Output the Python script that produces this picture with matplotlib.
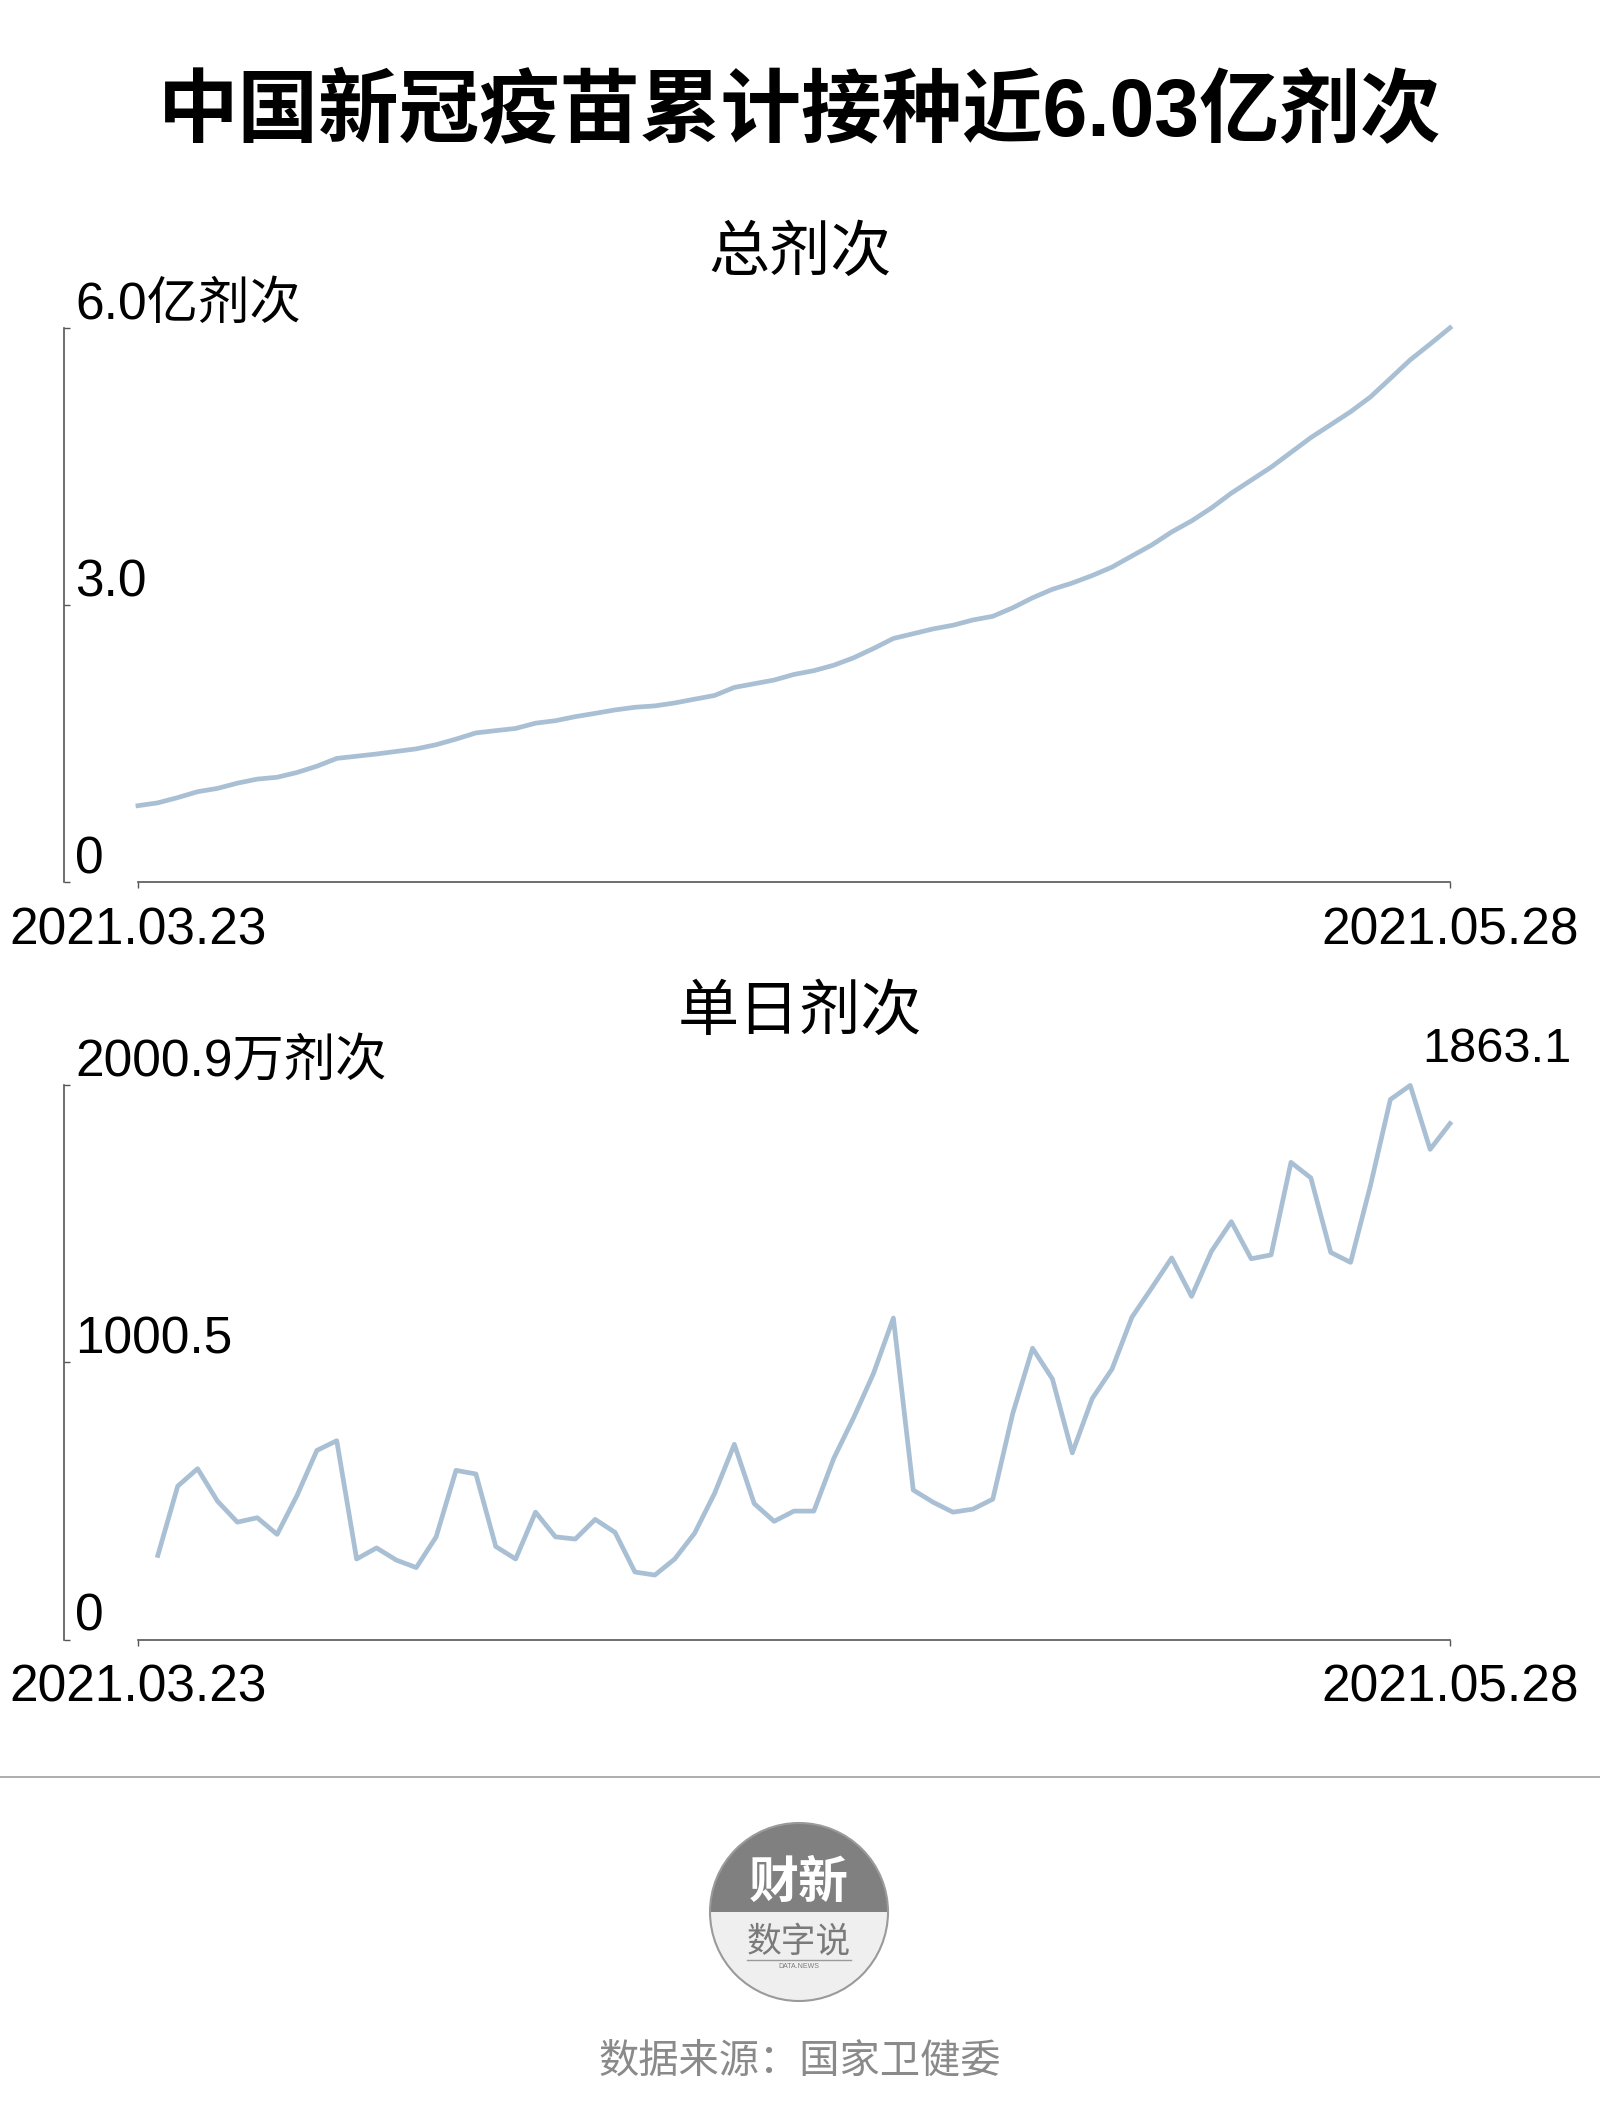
import numpy as np
import pandas as pd
import matplotlib
matplotlib.use('Agg')
import matplotlib.pyplot as plt
import matplotlib.dates as mdates
from matplotlib.patches import Wedge, Circle

plt.rcParams['font.family'] = ['Liberation Sans', 'Noto Sans CJK SC', 'DejaVu Sans']

### data
dates = pd.date_range('2021-03-23', '2021-05-28', freq='D')
# total doses, 亿剂次
total_doses = [0.834, 0.865, 0.922, 0.986, 1.022, 1.079, 1.123, 1.143, 1.195, 1.263,
               1.348, 1.372, 1.396, 1.424, 1.452, 1.497, 1.558, 1.625, 1.650, 1.674,
               1.731, 1.758, 1.802, 1.838, 1.875, 1.904, 1.919, 1.951, 1.992, 2.032,
               2.120, 2.160, 2.200, 2.261, 2.302, 2.361, 2.442, 2.543, 2.652, 2.704,
               2.756, 2.796, 2.853, 2.893, 2.985, 3.094, 3.187, 3.255, 3.336, 3.428,
               3.549, 3.669, 3.810, 3.930, 4.071, 4.232, 4.373, 4.514, 4.675, 4.836,
               4.976, 5.117, 5.278, 5.479, 5.681, 5.853, 6.0297]
# daily doses, 万剂次 (starts 03.24)
daily_doses = [304, 554, 617, 500, 424, 440, 380, 520, 683, 718,
               291, 331, 287, 260, 371, 611, 598, 336, 291, 460,
               371, 363, 434, 387, 244, 233, 291, 384, 527, 705,
               491, 427, 464, 464, 654, 801, 961, 1161, 540, 496,
               460, 471, 507, 815, 1052, 941, 674, 870, 977, 1164,
               1270, 1378, 1239, 1402, 1509, 1375, 1389, 1723, 1667, 1398,
               1362, 1640, 1950, 2000.9, 1770, 1863.1]
total_ylabels = ['0', '3.0', '6.0亿剂次']
daily_ylabels = ['0', '1000.5', '2000.9万剂次']

line_color = '#a9bfd4'
axis_color = '#555555'

fig = plt.figure(figsize=(16, 21.25), dpi=100)
H = 2125.0


def draw_panel(ax, x, y, ylabels):
    ymax = max(y)
    ax.plot(x, y, color=line_color, lw=3.4, clip_on=False)
    ax.set_ylim(0, ymax)
    ax.set_xlim(dates[0] - pd.Timedelta(days=3.72), dates[-1])
    for s in ['top', 'right']:
        ax.spines[s].set_visible(False)
    for s in ['left', 'bottom']:
        ax.spines[s].set_color(axis_color)
        ax.spines[s].set_linewidth(1.2)
    ax.spines['left'].set_bounds(0, ymax)
    ax.spines['bottom'].set_bounds(mdates.date2num(dates[0]), mdates.date2num(dates[-1]))
    ticks = [0, ymax / 2, ymax]
    ax.set_yticks(ticks)
    ax.set_yticklabels([])
    ax.tick_params(axis='y', direction='in', length=4.5, width=1, color=axis_color)
    ax.set_xticks([dates[0], dates[-1]])
    ax.set_xticklabels([dates[0].strftime('%Y.%m.%d'), dates[-1].strftime('%Y.%m.%d')], fontsize=37)
    ax.tick_params(axis='x', direction='out', length=4.5, width=1, color=axis_color, pad=13)
    for txt, v in zip(ylabels, ticks):
        ax.annotate(txt, xy=(0, v), xycoords=ax.get_yaxis_transform(),
                    xytext=(8, 6.5), textcoords='offset points',
                    ha='left', va='baseline', fontsize=37)


ax1 = fig.add_axes([0.04, 1 - 882.4 / H, 0.86625, 554.6 / H])
draw_panel(ax1, dates, total_doses, total_ylabels)

ax2 = fig.add_axes([0.04, 1 - 1639.6 / H, 0.86625, 554.2 / H])
draw_panel(ax2, dates[1:], daily_doses, daily_ylabels)
ax2.annotate(f'{daily_doses[-1]}', xy=(dates[-1], daily_doses[-1]),
             xytext=(34, 53), textcoords='offset points',
             ha='center', va='center', fontsize=35)

### titles
fig.text(0.5, 1 - 114 / H, '中国新冠疫苗累计接种近6.03亿剂次', ha='center', va='center',
         fontsize=58, fontweight='bold')
fig.text(0.5, 1 - 255 / H, '总剂次', ha='center', va='center', fontsize=44)
fig.text(0.5, 1 - 1014 / H, '单日剂次', ha='center', va='center', fontsize=44)

### footer: separator, logo and source
deco = fig.add_axes([0, 0, 1, 1], zorder=-1)
deco.set_xlim(0, 1600)
deco.set_ylim(H, 0)
deco.axis('off')
deco.plot([0, 1600], [1777, 1777], color='#a0a0a0', lw=1.2)
cx, cy, r = 799, 1912, 89
deco.add_patch(Wedge((cx, cy), r, 180, 360, color='#808080', lw=0))
deco.add_patch(Wedge((cx, cy), r, 0, 180, color='#efefef', lw=0))
deco.add_patch(Circle((cx, cy), r, fill=False, edgecolor='#9a9a9a', lw=1.5))
deco.text(cx, 1884, '财新', ha='center', va='center', fontsize=36, fontweight='bold', color='white')
deco.text(cx, 1942, '数字说', ha='center', va='center', fontsize=25, color='#7a7a7a')
deco.plot([747, 851], [1960, 1960], color='#9a9a9a', lw=1)
deco.text(cx, 1967, 'DATA.NEWS', ha='center', va='center', fontsize=5, color='#7a7a7a')
deco.text(800, 2062, '数据来源：国家卫健委', ha='center', va='center', fontsize=29, color='#8a8a8a')

fig.savefig('out.png', dpi=100, facecolor='white')
